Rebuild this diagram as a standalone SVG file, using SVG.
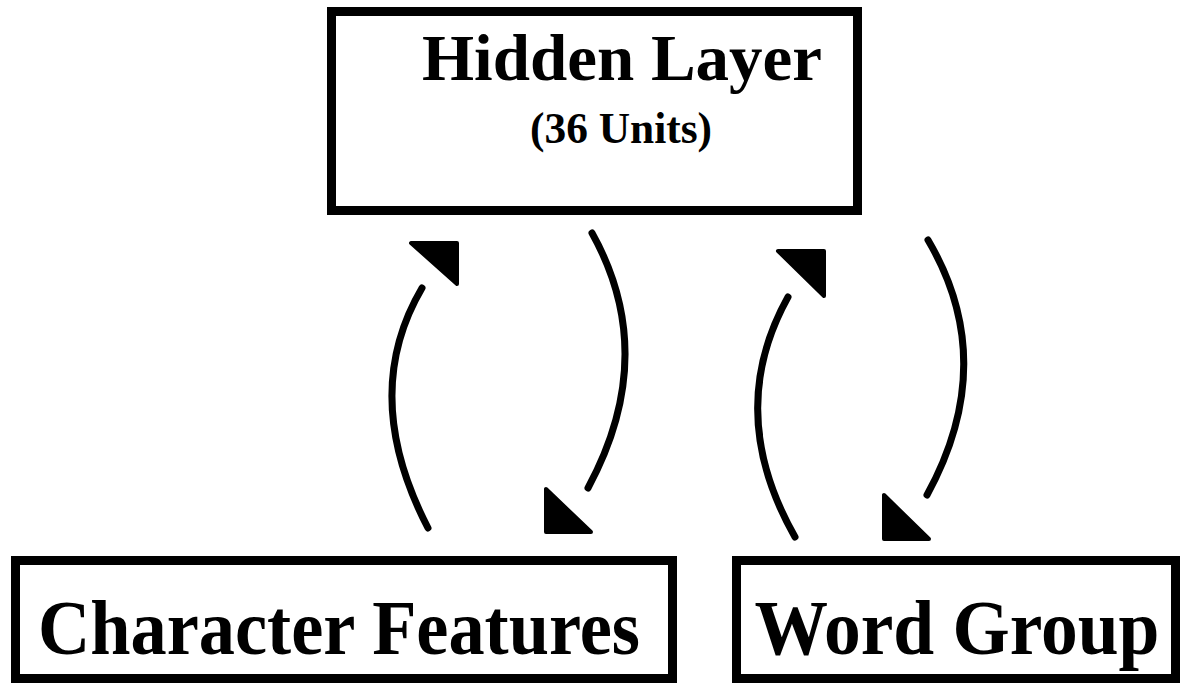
<svg xmlns="http://www.w3.org/2000/svg" width="1183" height="683" viewBox="0 0 1183 683">
  <style>
    .box { fill: #ffffff; stroke: #000000; stroke-width: 9; }
    .label { font-family: "Liberation Serif", "Times New Roman", serif; font-weight: bold; fill: #000000; text-anchor: middle; }
    .link { fill: none; stroke: #000000; stroke-width: 7; stroke-linecap: round; }
    .head { fill: #000000; stroke: #000000; stroke-width: 4; stroke-linejoin: round; }
  </style>
  <rect width="1183" height="683" fill="#ffffff"/>

  <g id="hidden-layer">
    <rect class="box" x="331.5" y="11.5" width="526" height="199"/>
    <text class="label" x="622" y="80" font-size="66" textLength="400" lengthAdjust="spacingAndGlyphs">Hidden Layer</text>
    <text class="label" x="621" y="143" font-size="44" textLength="182" lengthAdjust="spacingAndGlyphs">(36 Units)</text>
  </g>

  <g id="character-features">
    <rect class="box" x="15.5" y="560.5" width="657" height="118"/>
    <text class="label" x="339" y="654" font-size="78" textLength="602" lengthAdjust="spacingAndGlyphs">Character Features</text>
  </g>

  <g id="word-group">
    <rect class="box" x="736.5" y="560.5" width="439" height="118"/>
    <text class="label" x="957" y="654" font-size="78" textLength="405" lengthAdjust="spacingAndGlyphs">Word Group</text>
  </g>

  <g id="connectors">
    <!-- Character Features <-> Hidden Layer -->
    <path class="link" d="M428,528 Q359,395 422,288"/>
    <polygon class="head" points="411,243 457,243 457,284"/>
    <path class="link" d="M592,233 Q660,355 588,488"/>
    <polygon class="head" points="546,489 546,532 591,532"/>
    <!-- Word Group <-> Hidden Layer -->
    <path class="link" d="M795,537 Q724,412 788,297"/>
    <polygon class="head" points="778,251 824,251 824,296"/>
    <path class="link" d="M928,240 Q1000,362 927,495"/>
    <polygon class="head" points="884,495 884,539 929,539"/>
  </g>
</svg>
